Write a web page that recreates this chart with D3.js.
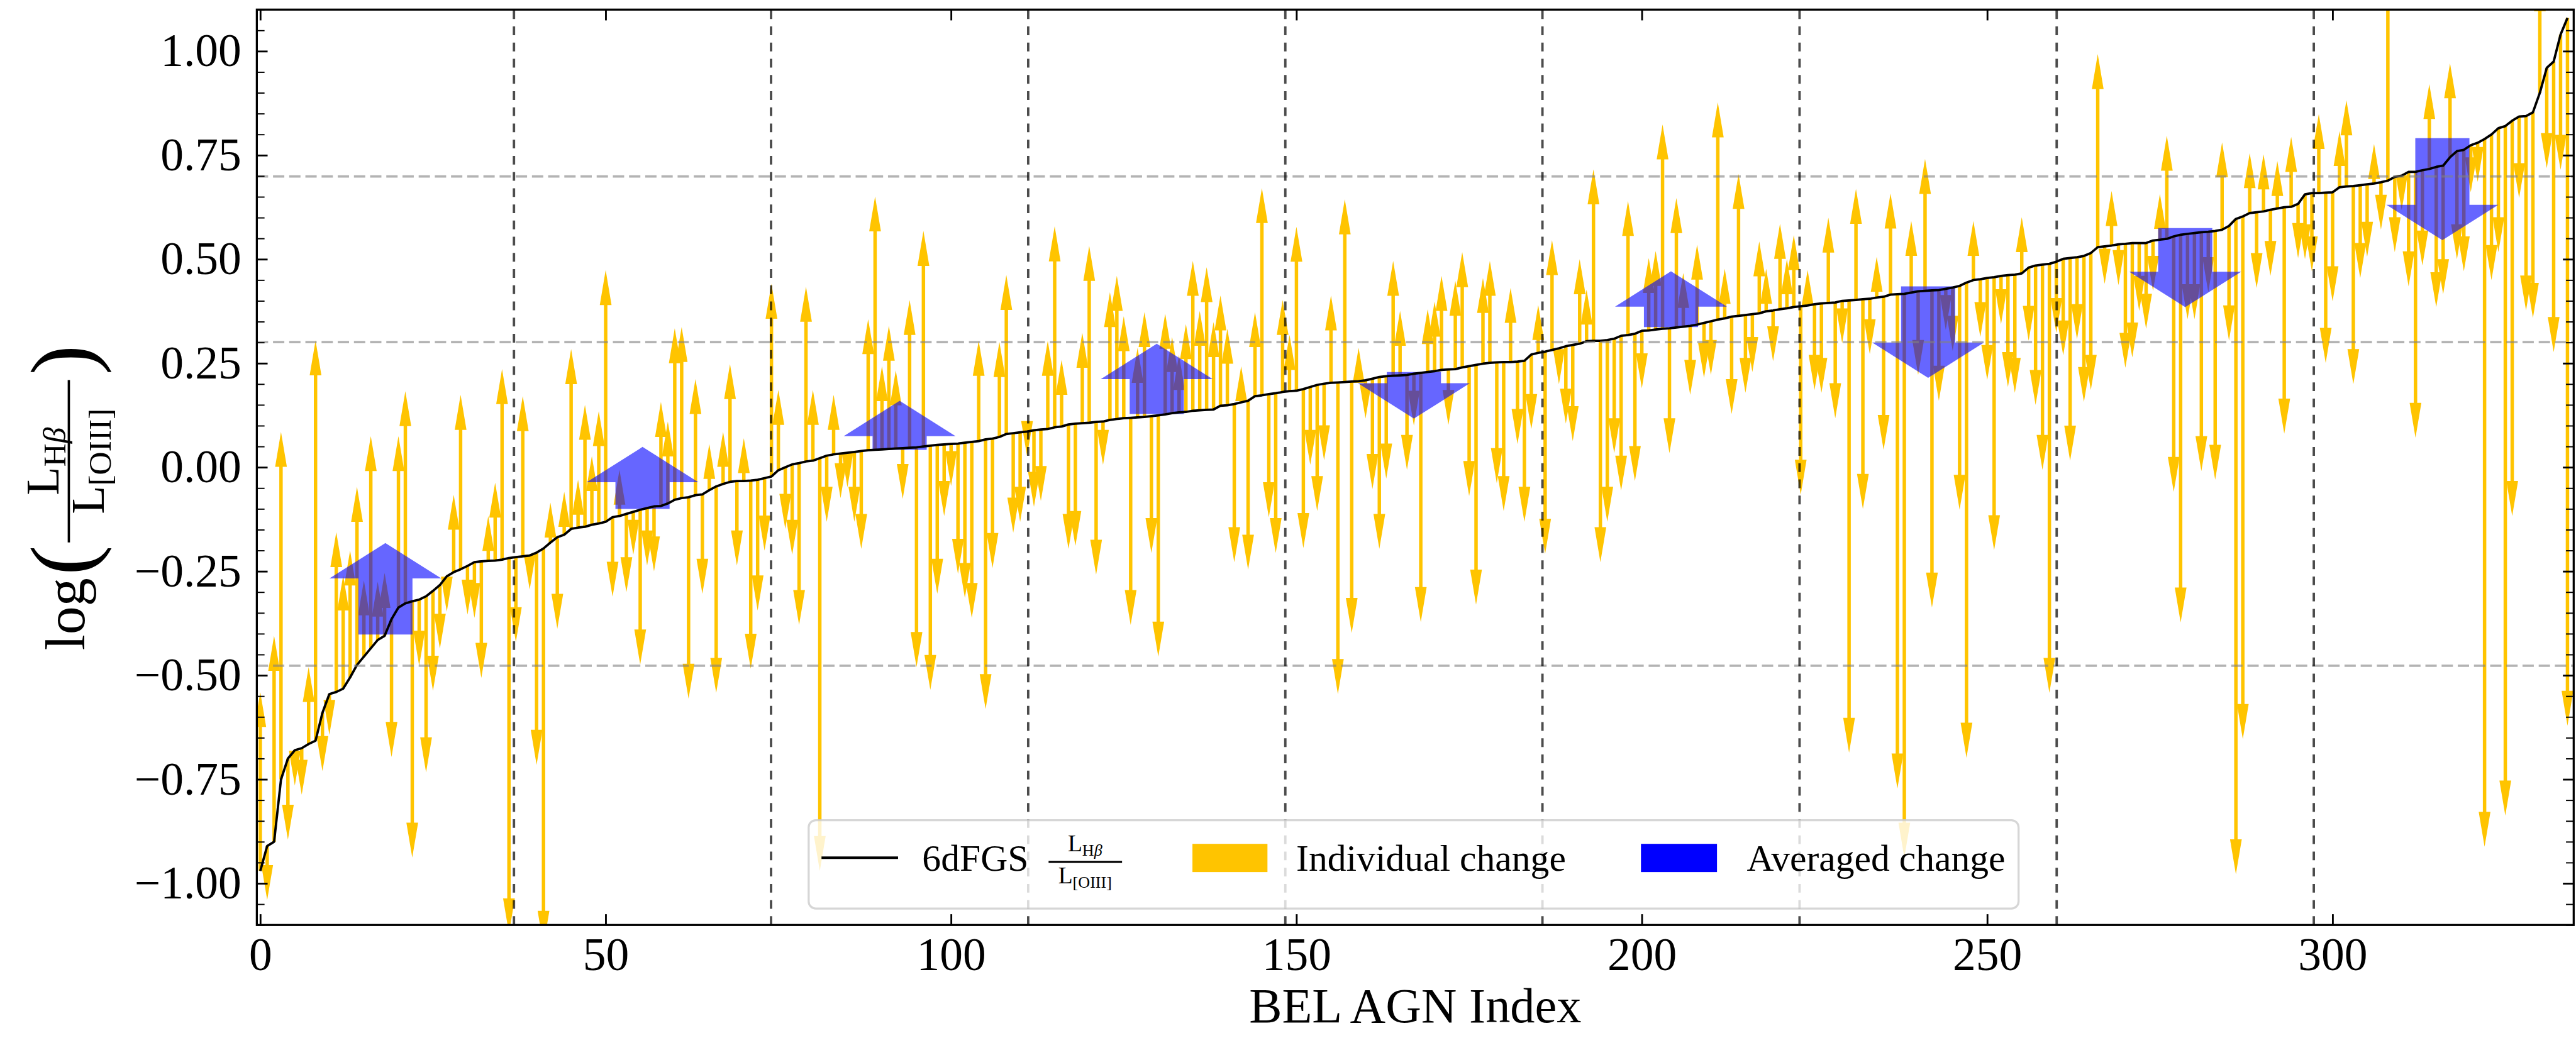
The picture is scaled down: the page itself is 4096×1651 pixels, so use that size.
<!DOCTYPE html>
<html>
<head>
<meta charset="utf-8">
<script src="https://cdn.jsdelivr.net/npm/d3@7"></script>
<style>
  html, body { margin: 0; padding: 0; background: #fff; overflow: hidden; }
  text { font-family: "Liberation Serif", "DejaVu Serif", serif; fill: #000; }
</style>
</head>
<body>
<svg id="chart" width="4096" height="1651"></svg>
<script>
// 6dFGS log(L_Hb / L_[OIII]) for each BEL AGN, sorted ascending
const lineRatio = [
  -0.97, -0.91, -0.90, -0.75, -0.70, -0.68, -0.675, -0.665, -0.657, -0.59,
  -0.545, -0.54, -0.532, -0.505, -0.475, -0.455, -0.435, -0.415, -0.405, -0.365,
  -0.337, -0.327, -0.322, -0.318, -0.31, -0.297, -0.283, -0.262, -0.252, -0.245,
  -0.237, -0.228, -0.226, -0.225, -0.224, -0.222, -0.218, -0.216, -0.214, -0.212,
  -0.205, -0.195, -0.181, -0.168, -0.162, -0.148, -0.145, -0.143, -0.138, -0.135,
  -0.131, -0.12, -0.117, -0.112, -0.107, -0.102, -0.098, -0.094, -0.093, -0.087,
  -0.078, -0.074, -0.072, -0.067, -0.065, -0.055, -0.046, -0.04, -0.035, -0.033,
  -0.033, -0.032, -0.03, -0.026, -0.022, -0.007, 0.0, 0.007, 0.01, 0.014,
  0.016, 0.022, 0.028, 0.031, 0.033, 0.035, 0.037, 0.039, 0.041, 0.042,
  0.043, 0.044, 0.045, 0.046, 0.047, 0.048, 0.05, 0.052, 0.054, 0.055,
  0.056, 0.057, 0.059, 0.061, 0.063, 0.067, 0.069, 0.073, 0.08, 0.082,
  0.084, 0.086, 0.089, 0.091, 0.092, 0.096, 0.098, 0.103, 0.105, 0.106,
  0.107, 0.109, 0.11, 0.114, 0.116, 0.118, 0.119, 0.12, 0.121, 0.123,
  0.125, 0.127, 0.13, 0.132, 0.133, 0.136, 0.137, 0.138, 0.139, 0.148,
  0.149, 0.152, 0.156, 0.16, 0.171, 0.173, 0.176, 0.178, 0.181, 0.183,
  0.184, 0.188, 0.193, 0.198, 0.201, 0.203, 0.204, 0.205, 0.206, 0.207,
  0.209, 0.213, 0.217, 0.219, 0.22, 0.221, 0.222, 0.225, 0.227, 0.229,
  0.231, 0.234, 0.235, 0.236, 0.24, 0.243, 0.246, 0.249, 0.251, 0.252,
  0.253, 0.253, 0.254, 0.256, 0.271, 0.275, 0.278, 0.282, 0.286, 0.291,
  0.294, 0.297, 0.303, 0.304, 0.304, 0.306, 0.309, 0.316, 0.318, 0.321,
  0.328, 0.329, 0.331, 0.333, 0.334, 0.336, 0.338, 0.34, 0.343, 0.347,
  0.351, 0.355, 0.358, 0.362, 0.364, 0.366, 0.368, 0.37, 0.375, 0.377,
  0.38, 0.382, 0.385, 0.387, 0.389, 0.392, 0.394, 0.395, 0.396, 0.4,
  0.401, 0.402, 0.404, 0.405, 0.408, 0.41, 0.415, 0.416, 0.417, 0.42,
  0.423, 0.424, 0.425, 0.426, 0.429, 0.432, 0.436, 0.444, 0.45, 0.452,
  0.455, 0.457, 0.46, 0.462, 0.463, 0.466, 0.48, 0.485, 0.487, 0.489,
  0.494, 0.501, 0.503, 0.505, 0.508, 0.515, 0.529, 0.531, 0.533, 0.536,
  0.537, 0.539, 0.539, 0.539, 0.545, 0.547, 0.549, 0.555, 0.559, 0.561,
  0.563, 0.565, 0.566, 0.568, 0.571, 0.58, 0.597, 0.603, 0.611, 0.613,
  0.615, 0.619, 0.622, 0.625, 0.626, 0.633, 0.656, 0.659, 0.659, 0.66,
  0.661, 0.673, 0.675, 0.676, 0.678, 0.68, 0.682, 0.685, 0.689, 0.698,
  0.701, 0.71, 0.71, 0.714, 0.717, 0.722, 0.725, 0.745, 0.76, 0.763,
  0.774, 0.78, 0.789, 0.8, 0.815, 0.82, 0.833, 0.843, 0.844, 0.853,
  0.9, 0.96, 0.975, 1.04, 1.08
];

// Changed ratio for each AGN (arrow tips)
const newRatio = [
  -0.54, -1.04, -0.405, 0.085, -0.895, -0.765, -0.787, -0.48, 0.305, -0.73,
  -0.643, -0.156, -0.26, -0.20, -0.047, -0.272, 0.075, -0.275, -0.254, -0.696,
  0.075, 0.183, -0.938, -0.477, -0.733, -0.537, -0.436, -0.347, -0.066, 0.174,
  -0.354, -0.362, -0.506, -0.117, -0.037, 0.236, -1.12, -0.42, 0.171, -0.294,
  -0.715, -1.15, -0.085, -0.388, -0.059, 0.284, -0.03, 0.15, 0.027, 0.135,
  0.474, -0.311, -0.006, -0.30, -0.21, -0.474, -0.236, -0.25, 0.157, 0.11,
  0.334, 0.337, -0.556, 0.212, -0.304, 0.056, -0.542, 0.085, 0.248, -0.236,
  0.07, -0.484, -0.344, -0.2, 0.441, 0.186, -0.148, -0.21, -0.379, 0.434,
  0.186, -0.97, -0.131, 0.174, -0.074, -0.048, -0.131, -0.196, 0.356, 0.651,
  0.243, 0.34, 0.233, -0.076, 0.402, -0.48, 0.568, -0.535, -0.304, -0.117,
  -0.045, -0.256, -0.314, -0.362, 0.304, -0.581, -0.242, 0.301, 0.462, -0.157,
  -0.131, 0.027, -0.095, -0.081, 0.304, 0.579, 0.258, -0.196, -0.189, 0.323,
  0.532, -0.258, 0.006, 0.421, 0.46, 0.363, -0.379, 0.287, 0.373, -0.206,
  -0.455, 0.369, 0.313, 0.27, 0.344, 0.496, 0.376, 0.481, 0.349, 0.413,
  0.333, -0.228, 0.243, -0.246, 0.373, 0.671, -0.12, -0.206, 0.402, 0.318,
  0.578, -0.194, 0.006, -0.105, 0.017, 0.413, -0.545, 0.644, -0.398, 0.287,
  0.117, -0.052, -0.196, -0.027, 0.496, 0.376, -0.006, 0.10, -0.372, 0.38,
  0.398, 0.46, 0.102, 0.448, 0.517, -0.069, -0.33, 0.455, 0.496, -0.038,
  -0.105, 0.431, 0.056, -0.131, 0.092, 0.39, -0.208, 0.546, 0.2, 0.105,
  0.063, 0.5, 0.427, 0.716, -0.228, -0.131, 0.034, -0.056, 0.64, -0.033,
  0.19, 0.503, 0.52, 0.824, 0.034, 0.647, 0.467, 0.174, 0.535, 0.215,
  0.222, 0.877, 0.477, 0.128, 0.705, 0.179, 0.229, 0.543, 0.477, 0.255,
  0.585, 0.5, 0.558, -0.066, 0.474, 0.186, 0.179, 0.6, 0.118, 0.298,
  -0.686, 0.669, -0.1, 0.272, 0.506, 0.042, 0.658, -0.772, -0.938, 0.592,
  0.222, 0.741, -0.337, 0.16, 0.33, 0.28, -0.102, -0.698, 0.592, 0.313,
  0.21, -0.199, 0.344, 0.193, 0.179, 0.601, 0.304, 0.15, -0.006, -0.542,
  0.323, 0.269, 0.016, 0.308, 0.157, 0.186, 0.993, 0.441, 0.664, 0.438,
  0.239, 0.264, 0.376, 0.333, 0.424, 0.657, 0.797, -0.059, -0.373, 0.356,
  0.356, -0.009, 0.421, -0.03, 0.781, 0.305, -0.978, -0.653, 0.755, 0.431,
  0.752, 0.46, 0.736, 0.081, 0.794, 0.503, 0.5, 0.471, 0.849, 0.251,
  0.399, 0.808, 0.882, 0.2, 0.455, 0.506, 0.777, 0.571, 1.2, 0.517,
  0.618, 0.435, 0.071, 0.485, 0.921, 0.385, 0.416, 0.971, 0.5, 0.471,
  0.661, 0.686, -0.912, 0.45, 0.517, -0.837, -0.117, 0.647, 0.377, 0.359,
  1.18, 0.719, 0.277, 0.715, -0.621
];

// Averaged change per index bin (start, end)
const binFrom = [-0.402, -0.100, 0.042, 0.128, 0.229, 0.337, 0.435, 0.575, 0.791];
const binTo   = [-0.182, 0.049, 0.160, 0.297, 0.117, 0.471, 0.215, 0.385, 0.546];

// Reference ratios: log(1/3), log(2), log(5)
const refLevels = [-0.477, 0.301, 0.699];

const xTickValues = [0, 50, 100, 150, 200, 250, 300];
const yTickValues = [-1.0, -0.75, -0.5, -0.25, 0.0, 0.25, 0.5, 0.75, 1.0];
const yMinorValues = d3.range(-22, 23).map(k => k * 0.05).filter(v => Math.abs(Math.round(v * 4) - v * 4) > 1e-6);
const legendLabels = ["6dFGS", "Individual change", "Averaged change"];
const xLabel = "BEL AGN Index";

// ---------- layout (drawn in a 5014 x 2021 frame, scaled to the window) ----------
const S = 4096 / 5014;
const P = { left: 499.9, right: 5009.5, top: 18.7, bottom: 1801 };
const YELLOW = "#FFC400";
const BLUE = "#0000FF";

const svg = d3.select("#chart");
const root = svg.append("g").attr("transform", `scale(${S})`);

const N = lineRatio.length;
const x = d3.scaleLinear().domain([-0.5, 334.9]).range([P.left, P.right]);
const y = d3.scaleLinear().domain([-1.1, 1.1]).range([P.bottom, P.top]);

root.append("defs").append("clipPath").attr("id", "plotClip")
  .append("rect").attr("x", P.left).attr("y", P.top)
  .attr("width", P.right - P.left).attr("height", P.bottom - P.top);

const plot = root.append("g").attr("clip-path", "url(#plotClip)");

// arrow outline in data space: shaft half-width hs, head half-width hh (index units), head length hl
function arrowPath(xi, y0, y1, hs, hh, hl) {
  const dir = y1 >= y0 ? 1 : -1;
  const base = y1 - dir * hl;
  let pts;
  if ((base - y0) * dir > 0) {
    pts = [[xi - hs, y0], [xi - hs, base], [xi - hh, base], [xi, y1],
           [xi + hh, base], [xi + hs, base], [xi + hs, y0]];
  } else {
    pts = [[xi - hh, base], [xi, y1], [xi + hh, base]];
  }
  return d3.line().x(p => x(p[0])).y(p => y(p[1]))(pts) + "Z";
}

// individual changes
plot.append("g").selectAll("path")
  .data(lineRatio.map((v, i) => ({ i, from: v, to: newRatio[i] })))
  .join("path")
  .attr("d", d => arrowPath(d.i, d.from, d.to, 0.25, 0.85, 0.084))
  .attr("fill", YELLOW);

// averaged changes per bin
const binCenters = d3.range(9).map(k => (k + 0.5) * N / 9 - 0.5);
plot.append("g").selectAll("path")
  .data(binCenters.map((c, k) => ({ c, from: binFrom[k], to: binTo[k] })))
  .join("path")
  .attr("d", d => arrowPath(d.c, d.from, d.to, 3.92, 8.1, 0.085))
  .attr("fill", BLUE).attr("fill-opacity", 0.6);

// 6dFGS ratio curve
plot.append("path")
  .datum(lineRatio)
  .attr("d", d3.line().x((v, i) => x(i)).y(v => y(v)))
  .attr("fill", "none").attr("stroke", "#000").attr("stroke-width", 4.6)
  .attr("stroke-linejoin", "round");

// reference ratio levels
plot.append("g").selectAll("line")
  .data(refLevels).join("line")
  .attr("x1", P.left).attr("x2", P.right)
  .attr("y1", d => y(d)).attr("y2", d => y(d))
  .attr("stroke", "#808080").attr("stroke-opacity", 0.6)
  .attr("stroke-width", 4.7).attr("stroke-dasharray", "22,9.5");

// bin separators
const binEdges = d3.range(1, 9).map(k => k * N / 9 - 0.5);
plot.append("g").selectAll("line")
  .data(binEdges).join("line")
  .attr("x1", d => x(d)).attr("x2", d => x(d))
  .attr("y1", P.bottom).attr("y2", P.top)
  .attr("stroke", "#000").attr("stroke-opacity", 0.7)
  .attr("stroke-width", 4.7).attr("stroke-dasharray", "17,14.5");

// ---------- axes ----------
const tickFont = 90;
function styleAxis(g) {
  g.select(".domain").remove();
  g.selectAll(".tick line").attr("stroke", "#000").attr("stroke-width", 3.5);
  g.selectAll(".tick text").attr("font-size", tickFont).attr("font-family", '"Liberation Serif", serif');
}

root.append("g").attr("transform", `translate(0,${P.bottom})`)
  .call(d3.axisBottom(x).tickValues(xTickValues).tickSize(-21).tickPadding(24).tickFormat(d3.format("d")))
  .call(styleAxis);
root.append("g").attr("transform", `translate(0,${P.top})`)
  .call(d3.axisTop(x).tickValues(xTickValues).tickSize(-21).tickFormat(""))
  .call(styleAxis);
root.append("g").attr("transform", `translate(${P.left},0)`)
  .call(d3.axisLeft(y).tickValues(yTickValues).tickSize(-21).tickPadding(30).tickFormat(d3.format(".2f")))
  .call(styleAxis);
root.append("g").attr("transform", `translate(${P.right},0)`)
  .call(d3.axisRight(y).tickValues(yTickValues).tickSize(-21).tickFormat(""))
  .call(styleAxis);
root.append("g").attr("transform", `translate(${P.left},0)`)
  .call(d3.axisLeft(y).tickValues(yMinorValues).tickSize(-15).tickFormat(""))
  .call(g => { g.select(".domain").remove(); g.selectAll(".tick line").attr("stroke", "#000").attr("stroke-width", 2.4); });
root.append("g").attr("transform", `translate(${P.right},0)`)
  .call(d3.axisRight(y).tickValues(yMinorValues).tickSize(-15).tickFormat(""))
  .call(g => { g.select(".domain").remove(); g.selectAll(".tick line").attr("stroke", "#000").attr("stroke-width", 2.4); });

root.selectAll(".tick text").attr("fill", "#000");

// frame
root.append("rect")
  .attr("x", P.left).attr("y", P.top)
  .attr("width", P.right - P.left).attr("height", P.bottom - P.top)
  .attr("fill", "none").attr("stroke", "#000").attr("stroke-width", 4);

// x label
root.append("text")
  .attr("x", (P.left + P.right) / 2).attr("y", 1991)
  .attr("text-anchor", "middle").attr("font-size", 96)
  .text(xLabel);

// y label: log( L_Hb / L_[OIII] ), rotated; the fraction bar sits on the frame's y = 0
const yl = root.append("g").attr("transform", "translate(134,906) rotate(-90)");
yl.append("text").attr("x", -360).attr("y", 30).attr("font-size", 110).text("log");
yl.append("text").attr("x", -214).attr("y", 46).attr("font-size", 175).text("(");
const ylNum = yl.append("text").attr("x", 8).attr("y", -20).attr("text-anchor", "middle").attr("font-size", 90);
ylNum.append("tspan").text("L");
ylNum.append("tspan").attr("font-size", 63).attr("dy", 13).text("H");
ylNum.append("tspan").attr("font-size", 63).attr("font-style", "italic").text("β");
yl.append("line").attr("x1", -150).attr("x2", 166).attr("y1", 0).attr("y2", 0)
  .attr("stroke", "#000").attr("stroke-width", 4.5);
const ylDen = yl.append("text").attr("x", 8).attr("y", 68).attr("text-anchor", "middle").attr("font-size", 90);
ylDen.append("tspan").text("L");
ylDen.append("tspan").attr("font-size", 63).attr("dy", 13).text("[OIII]");
yl.append("text").attr("x", 176).attr("y", 46).attr("font-size", 175).text(")");

// ---------- legend ----------
const lg = root.append("g");
lg.append("rect")
  .attr("x", 1574).attr("y", 1597).attr("width", 2355).attr("height", 172)
  .attr("rx", 14).attr("ry", 14)
  .attr("fill", "#fff").attr("fill-opacity", 0.8)
  .attr("stroke", "#cccccc").attr("stroke-opacity", 0.8).attr("stroke-width", 4);
lg.append("line").attr("x1", 1599).attr("x2", 1748).attr("y1", 1670).attr("y2", 1670)
  .attr("stroke", "#000").attr("stroke-width", 5);
lg.append("text").attr("x", 1795).attr("y", 1696).attr("font-size", 73).text(legendLabels[0]);
const lgNum = lg.append("text").attr("x", 2112).attr("y", 1658).attr("text-anchor", "middle").attr("font-size", 46);
lgNum.append("tspan").text("L");
lgNum.append("tspan").attr("font-size", 32).attr("dy", 8).text("H");
lgNum.append("tspan").attr("font-size", 32).attr("font-style", "italic").text("β");
lg.append("line").attr("x1", 2041).attr("x2", 2184).attr("y1", 1678).attr("y2", 1678)
  .attr("stroke", "#000").attr("stroke-width", 4);
const lgDen = lg.append("text").attr("x", 2112).attr("y", 1720).attr("text-anchor", "middle").attr("font-size", 46);
lgDen.append("tspan").text("L");
lgDen.append("tspan").attr("font-size", 32).attr("dy", 8).text("[OIII]");
lg.append("rect").attr("x", 2321).attr("y", 1643).attr("width", 146).attr("height", 55).attr("fill", YELLOW);
lg.append("text").attr("x", 2523).attr("y", 1696).attr("font-size", 73).text(legendLabels[1]);
lg.append("rect").attr("x", 3194).attr("y", 1643).attr("width", 148).attr("height", 55).attr("fill", BLUE);
lg.append("text").attr("x", 3400).attr("y", 1696).attr("font-size", 73).text(legendLabels[2]);
</script>
</body>
</html>
